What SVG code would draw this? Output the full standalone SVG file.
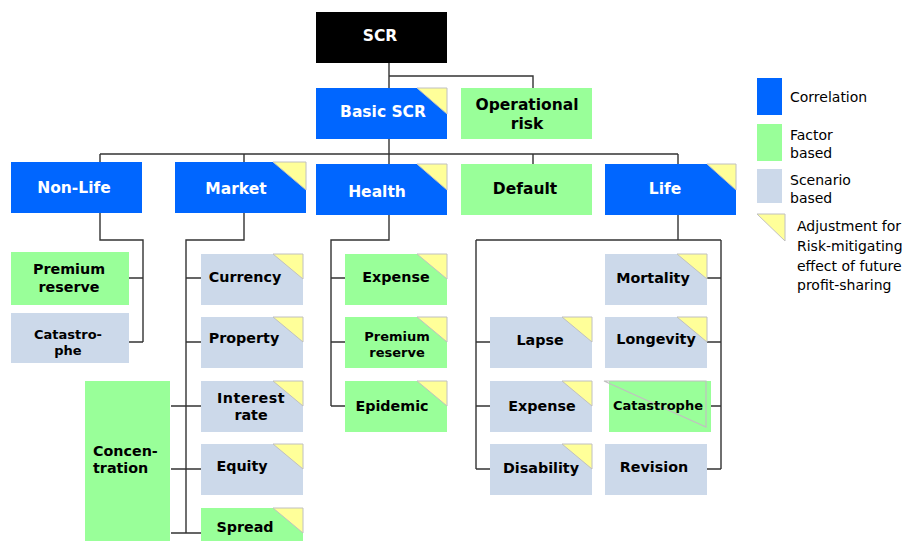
<svg xmlns="http://www.w3.org/2000/svg" width="903" height="541" viewBox="0 0 903 541">
  <style>
    .corr { fill: #0066ff; }
    .fact { fill: #99ff99; }
    .scen { fill: #ccd9ea; }
    .root { fill: #000000; }
    .adj { fill: #ffff99; stroke: #c0c0c0; stroke-width: 1; }
    .adj-open { fill: none; stroke: #c0c0c0; stroke-width: 1.2; }
    .wire { fill: none; stroke: #333333; stroke-width: 1.4; }
    text { font-family: "DejaVu Sans", Verdana, sans-serif; font-weight: bold; text-anchor: middle; fill: #000000; }
    .t1 { font-size: 15.5px; }
    .t2 { font-size: 14.3px; }
    .t3 { font-size: 13px; }
    .inv { fill: #ffffff; }
    .leg { font-weight: normal; font-size: 14px; text-anchor: start; }
  </style>

  <!-- connectors -->
  <g id="connectors">
    <!-- SCR to Basic SCR / Operational risk -->
    <path class="wire" d="M389,63 V88 M389,76 H533 V88"/>
    <!-- Basic SCR to the five modules -->
    <path class="wire" d="M389,139 V164 M100,154 H678 M100,154 V162 M244,154 V162 M533,154 V164 M678,154 V164"/>
    <!-- Non-Life -->
    <path class="wire" d="M100,213 V240 H143 V342 M129,278 H143 M129,342 H143"/>
    <!-- Market -->
    <path class="wire" d="M244,213 V240 H186 V533 M186,278 H201 M186,342 H201 M171,406 H201 M171,469 H201 M171,533 H201"/>
    <!-- Health -->
    <path class="wire" d="M389,215 V240 H331 V406 M331,278 H345 M331,342 H345 M331,406 H345"/>
    <!-- Life -->
    <path class="wire" d="M678,215 V240 M476,240 H721 M476,240 V469 M721,240 V469 M476,342 H490 M476,406 H490 M476,469 H490 M707,278 H721 M707,342 H721 M711,406 H721 M707,469 H721"/>
  </g>

  <!-- top level -->
  <g id="scr">
    <rect class="root" x="316" y="12" width="131" height="51"/>
    <text class="t1 inv" x="380" y="41">SCR</text>
  </g>
  <g id="basic-scr">
    <rect class="corr" x="316" y="88" width="131" height="51"/>
    <polygon class="adj" points="417,88 447,88 447,114"/>
    <text class="t1 inv" x="383" y="117">Basic SCR</text>
  </g>
  <g id="operational-risk">
    <rect class="fact" x="461" y="88" width="131" height="51"/>
    <text class="t1" x="527" y="110">Operational</text>
    <text class="t1" x="527" y="129">risk</text>
  </g>

  <!-- modules -->
  <g id="non-life">
    <rect class="corr" x="11" y="162" width="131" height="51"/>
    <text class="t1 inv" x="74" y="193">Non-Life</text>
  </g>
  <g id="market">
    <rect class="corr" x="175" y="162" width="131" height="51"/>
    <polygon class="adj" points="273,162 306,162 306,190"/>
    <text class="t1 inv" x="236" y="194">Market</text>
  </g>
  <g id="health">
    <rect class="corr" x="316" y="164" width="131" height="51"/>
    <polygon class="adj" points="417,164 447,164 447,190"/>
    <text class="t1 inv" x="377" y="197">Health</text>
  </g>
  <g id="default">
    <rect class="fact" x="461" y="164" width="131" height="51"/>
    <text class="t1" x="525" y="194">Default</text>
  </g>
  <g id="life">
    <rect class="corr" x="605" y="164" width="131" height="51"/>
    <polygon class="adj" points="707,164 736,164 736,190"/>
    <text class="t1 inv" x="665" y="194">Life</text>
  </g>

  <!-- Non-Life sub-modules -->
  <g id="nl-premium-reserve">
    <rect class="fact" x="11" y="252" width="118" height="53"/>
    <text class="t2" x="69" y="274">Premium</text>
    <text class="t2" x="69" y="292">reserve</text>
  </g>
  <g id="nl-catastrophe">
    <rect class="scen" x="11" y="313" width="118" height="50"/>
    <text class="t3" x="68" y="339">Catastro-</text>
    <text class="t3" x="68" y="355">phe</text>
  </g>

  <!-- Market sub-modules -->
  <g id="mkt-currency">
    <rect class="scen" x="201" y="254" width="102" height="51"/>
    <polygon class="adj" points="273,254 303,254 303,279"/>
    <text class="t2" x="245" y="282">Currency</text>
  </g>
  <g id="mkt-property">
    <rect class="scen" x="201" y="317" width="102" height="51"/>
    <polygon class="adj" points="273,317 303,317 303,342"/>
    <text class="t2" x="244" y="343">Property</text>
  </g>
  <g id="mkt-interest-rate">
    <rect class="scen" x="201" y="381" width="102" height="51"/>
    <polygon class="adj" points="273,381 303,381 303,406"/>
    <text class="t2" x="251" y="403" letter-spacing="0.5">Interest</text>
    <text class="t2" x="251" y="420">rate</text>
  </g>
  <g id="mkt-equity">
    <rect class="scen" x="201" y="444" width="102" height="51"/>
    <polygon class="adj" points="273,444 303,444 303,469"/>
    <text class="t2" x="242" y="471">Equity</text>
  </g>
  <g id="mkt-spread">
    <rect class="fact" x="201" y="508" width="102" height="51"/>
    <polygon class="adj" points="273,508 303,508 303,533"/>
    <text class="t2" x="245" y="532">Spread</text>
  </g>
  <g id="mkt-concentration">
    <rect class="fact" x="85" y="381" width="85" height="160"/>
    <text class="t2" x="93" y="456" style="text-anchor:start">Concen-</text>
    <text class="t2" x="93" y="473" style="text-anchor:start">tration</text>
  </g>

  <!-- Health sub-modules -->
  <g id="hl-expense">
    <rect class="fact" x="345" y="254" width="102" height="51"/>
    <polygon class="adj" points="417,254 447,254 447,279"/>
    <text class="t2" x="396" y="282">Expense</text>
  </g>
  <g id="hl-premium-reserve">
    <rect class="fact" x="345" y="317" width="102" height="51"/>
    <polygon class="adj" points="417,317 447,317 447,342"/>
    <text class="t3" x="397" y="341">Premium</text>
    <text class="t3" x="397" y="357">reserve</text>
  </g>
  <g id="hl-epidemic">
    <rect class="fact" x="345" y="381" width="102" height="51"/>
    <polygon class="adj" points="417,381 447,381 447,406"/>
    <text class="t2" x="392" y="411">Epidemic</text>
  </g>

  <!-- Life sub-modules -->
  <g id="lf-mortality">
    <rect class="scen" x="605" y="254" width="102" height="51"/>
    <polygon class="adj" points="677,254 707,254 707,279"/>
    <text class="t2" x="653" y="283">Mortality</text>
  </g>
  <g id="lf-lapse">
    <rect class="scen" x="490" y="317" width="102" height="51"/>
    <polygon class="adj" points="562,317 592,317 592,342"/>
    <text class="t2" x="540" y="345">Lapse</text>
  </g>
  <g id="lf-longevity">
    <rect class="scen" x="605" y="317" width="102" height="51"/>
    <polygon class="adj" points="677,317 707,317 707,342"/>
    <text class="t2" x="656" y="344">Longevity</text>
  </g>
  <g id="lf-expense">
    <rect class="scen" x="490" y="381" width="102" height="51"/>
    <polygon class="adj" points="562,381 592,381 592,406"/>
    <text class="t2" x="542" y="411">Expense</text>
  </g>
  <g id="lf-catastrophe">
    <rect class="fact" x="609" y="381" width="102" height="51"/>
    <polygon class="adj-open" points="604,381 706,381 706,427"/>
    <text class="t3" x="658" y="410">Catastrophe</text>
  </g>
  <g id="lf-disability">
    <rect class="scen" x="490" y="444" width="102" height="51"/>
    <polygon class="adj" points="562,444 592,444 592,469"/>
    <text class="t2" x="541" y="473">Disability</text>
  </g>
  <g id="lf-revision">
    <rect class="scen" x="605" y="444" width="102" height="51"/>
    <text class="t2" x="654" y="472">Revision</text>
  </g>

  <!-- legend -->
  <g id="legend">
    <rect class="corr" x="757" y="78" width="25" height="37"/>
    <text class="leg" x="790" y="102">Correlation</text>
    <rect class="fact" x="757" y="124" width="25" height="37"/>
    <text class="leg" x="790" y="140">Factor</text>
    <text class="leg" x="790" y="158">based</text>
    <rect class="scen" x="757" y="169" width="25" height="34"/>
    <text class="leg" x="790" y="185">Scenario</text>
    <text class="leg" x="790" y="203">based</text>
    <polygon class="adj" points="757,214 785,214 785,241"/>
    <text class="leg" x="797" y="231">Adjustment for</text>
    <text class="leg" x="797" y="251">Risk-mitigating</text>
    <text class="leg" x="797" y="271">effect of future</text>
    <text class="leg" x="797" y="290">profit-sharing</text>
  </g>
</svg>
